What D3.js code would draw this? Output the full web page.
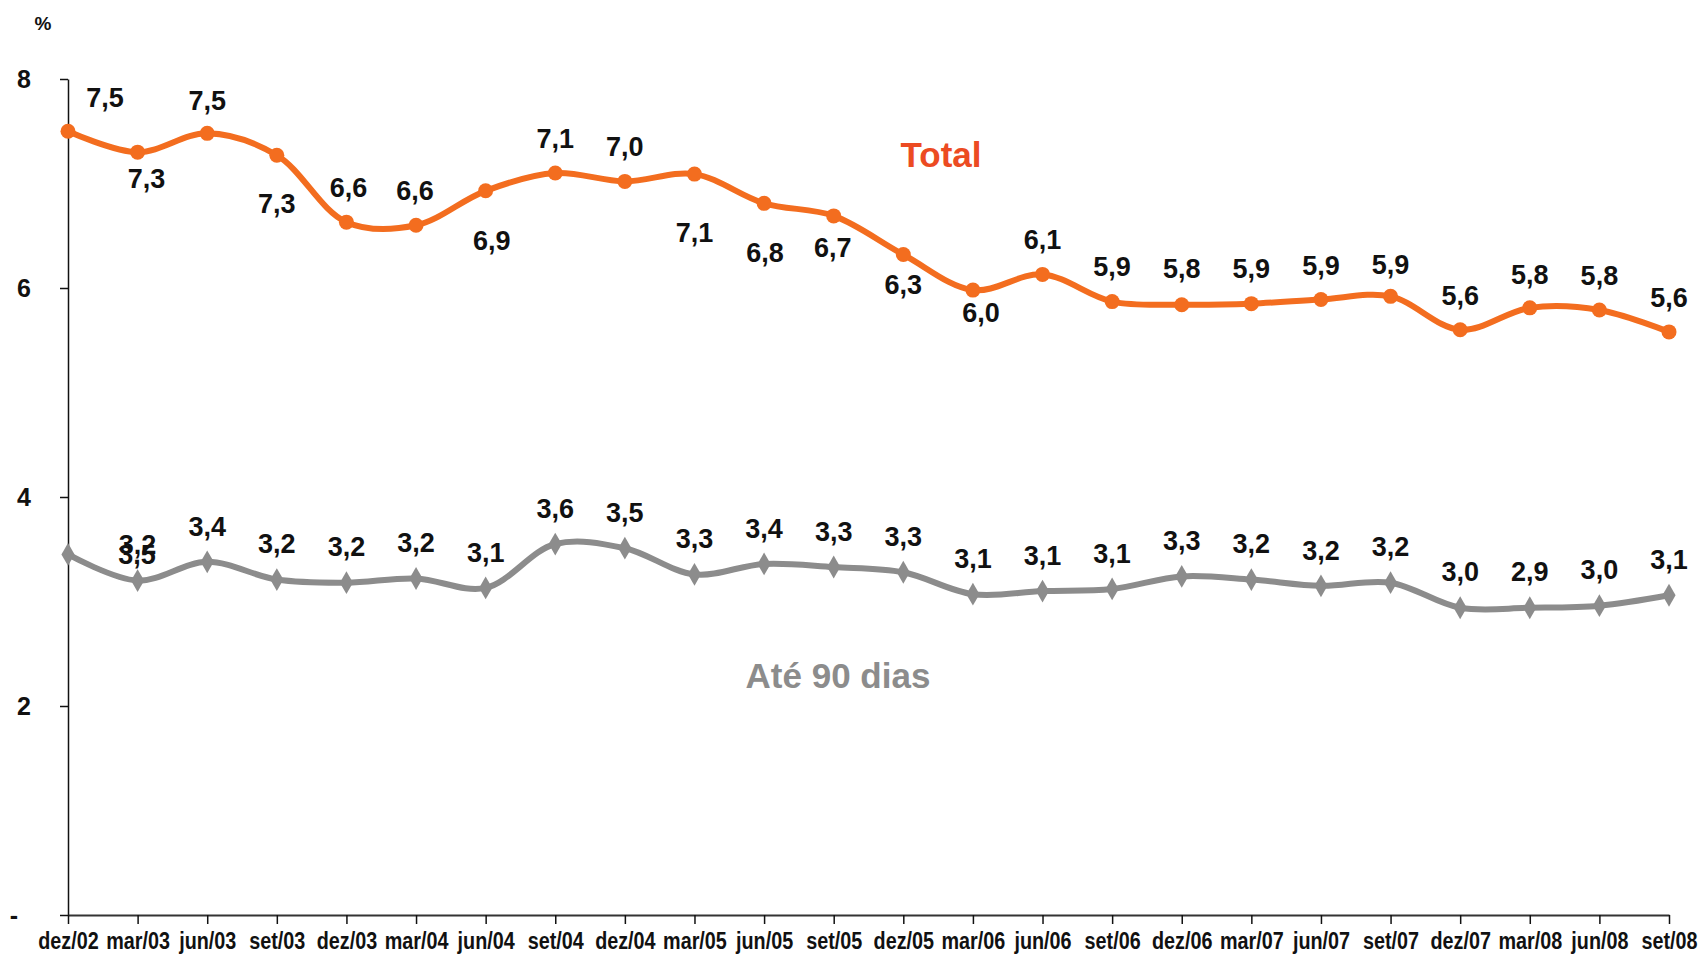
<!DOCTYPE html>
<html>
<head>
<meta charset="utf-8">
<script src="https://cdn.jsdelivr.net/npm/d3@7"></script>
<style>
  body { margin: 0; background: #fff; }
  text { font-family: "Liberation Sans", Arial, sans-serif; font-weight: bold; }
</style>
</head>
<body>
<div id="chart"></div>
<script>
// quarters
var categories = ["dez/02", "mar/03", "jun/03", "set/03", "dez/03", "mar/04", "jun/04", "set/04",
  "dez/04", "mar/05", "jun/05", "set/05", "dez/05", "mar/06", "jun/06", "set/06",
  "dez/06", "mar/07", "jun/07", "set/07", "dez/07", "mar/08", "jun/08", "set/08"];

// series values as drawn
var totalValues = [7.50, 7.30, 7.48, 7.27, 6.63, 6.60, 6.93, 7.10, 7.02, 7.09, 6.81, 6.69,
  6.32, 5.98, 6.13, 5.87, 5.84, 5.85, 5.89, 5.92, 5.60, 5.81, 5.79, 5.58];
var ateValues = [3.45, 3.20, 3.38, 3.21, 3.18, 3.22, 3.13, 3.55, 3.51, 3.26, 3.36, 3.33,
  3.28, 3.07, 3.10, 3.12, 3.24, 3.21, 3.15, 3.18, 2.94, 2.94, 2.96, 3.06];

// data labels as printed
var totalLabels = ["7,5", "7,3", "7,5", "7,3", "6,6", "6,6", "6,9", "7,1", "7,0", "7,1", "6,8", "6,7",
  "6,3", "6,0", "6,1", "5,9", "5,8", "5,9", "5,9", "5,9", "5,6", "5,8", "5,8", "5,6"];
var ateLabels = ["3,5", "3,2", "3,4", "3,2", "3,2", "3,2", "3,1", "3,6", "3,5", "3,3", "3,4", "3,3",
  "3,3", "3,1", "3,1", "3,1", "3,3", "3,2", "3,2", "3,2", "3,0", "2,9", "3,0", "3,1"];

var yTicks = [0, 2, 4, 6, 8];

// label placement (pixels from the point)
var totalLabelOffset = [[37, -34], [9, 26], [0, -33], [0, 48], [2, -35], [-1, -35], [6, 49], [0, -35],
  [0, -35], [0, 58], [1, 49], [-1, 31], [0, 30], [8, 22], [0, -35], [0, -35],
  [0, -36], [0, -35], [0, -34], [0, -32], [0, -35], [0, -34], [0, -35], [0, -35]];

var width = 1698, height = 957;
var svg = d3.select("#chart").append("svg")
  .attr("width", width)
  .attr("height", height);

var x = d3.scalePoint().domain(categories).range([68, 1669]);
var y = d3.scaleLinear().domain([0, 8]).range([915, 79]);

// y axis
var yAxis = svg.append("g")
  .attr("transform", "translate(68,0)")
  .call(d3.axisLeft(y).tickValues(yTicks).tickSize(8).tickSizeOuter(0)
    .tickFormat(d => d === 0 ? "-" : d));
yAxis.select(".domain").attr("stroke", "#111").attr("stroke-width", 1.5);
yAxis.selectAll(".tick line").attr("stroke", "#111").attr("stroke-width", 1.5);
yAxis.selectAll(".tick text")
  .attr("font-size", 25)
  .attr("fill", "#111")
  .attr("text-anchor", "middle")
  .attr("x", d => d === 0 ? -54 : -44);

// x axis
var xAxis = svg.append("g")
  .attr("transform", "translate(0,915)")
  .call(d3.axisBottom(x).tickSize(9).tickSizeOuter(0).tickPadding(9));
xAxis.select(".domain").attr("stroke", "#333").attr("stroke-width", 2);
xAxis.selectAll(".tick line").attr("stroke", "#111").attr("stroke-width", 1.5);
xAxis.selectAll(".tick text")
  .attr("font-size", 23)
  .attr("fill", "#111")
  .attr("transform", "scale(0.86,1)");

svg.append("text")
  .attr("x", 43).attr("y", 30)
  .attr("text-anchor", "middle")
  .attr("font-size", 19)
  .attr("fill", "#111")
  .text("%");

var line = d3.line()
  .x((d, i) => x(categories[i]))
  .y(d => y(d))
  .curve(d3.curveCatmullRom.alpha(0.5));

// Até 90 dias
var grey = "#8c8c8c";
svg.append("path")
  .datum(ateValues)
  .attr("d", line)
  .attr("fill", "none")
  .attr("stroke", grey)
  .attr("stroke-width", 6);
svg.selectAll(".ate-pt")
  .data(ateValues)
  .enter().append("path")
  .attr("class", "ate-pt")
  .attr("d", d3.symbol().type(d3.symbolDiamond).size(150))
  .attr("transform", (d, i) => "translate(" + x(categories[i]) + "," + y(d) + ")")
  .attr("fill", grey);

// Total
var orange = "#f36d1f";
svg.append("path")
  .datum(totalValues)
  .attr("d", line)
  .attr("fill", "none")
  .attr("stroke", orange)
  .attr("stroke-width", 6);
svg.selectAll(".tot-pt")
  .data(totalValues)
  .enter().append("circle")
  .attr("class", "tot-pt")
  .attr("cx", (d, i) => x(categories[i]))
  .attr("cy", d => y(d))
  .attr("r", 7.5)
  .attr("fill", orange);

// data labels
svg.selectAll(".tot-lbl")
  .data(totalValues)
  .enter().append("text")
  .attr("class", "tot-lbl")
  .attr("x", (d, i) => x(categories[i]) + totalLabelOffset[i][0])
  .attr("y", (d, i) => y(d) + totalLabelOffset[i][1])
  .attr("dy", "0.36em")
  .attr("text-anchor", "middle")
  .attr("font-size", 27)
  .attr("fill", "#111")
  .text((d, i) => totalLabels[i]);

// first grey label sits beside its point, as in the original
svg.selectAll(".ate-lbl")
  .data(ateValues)
  .enter().append("text")
  .attr("class", "ate-lbl")
  .attr("x", (d, i) => x(categories[i]) + (i === 0 ? 69 : 0))
  .attr("y", (d, i) => y(d) + (i === 0 ? 0 : -36))
  .attr("dy", "0.36em")
  .attr("text-anchor", "middle")
  .attr("font-size", 27)
  .attr("fill", "#111")
  .text((d, i) => ateLabels[i]);

// series names
svg.append("text")
  .attr("x", 941).attr("y", 154)
  .attr("dy", "0.36em")
  .attr("text-anchor", "middle")
  .attr("font-size", 35)
  .attr("fill", "#ec4b22")
  .text("Total");

svg.append("text")
  .attr("x", 838).attr("y", 675)
  .attr("dy", "0.36em")
  .attr("text-anchor", "middle")
  .attr("font-size", 35)
  .attr("fill", grey)
  .text("Até 90 dias");
</script>
</body>
</html>
